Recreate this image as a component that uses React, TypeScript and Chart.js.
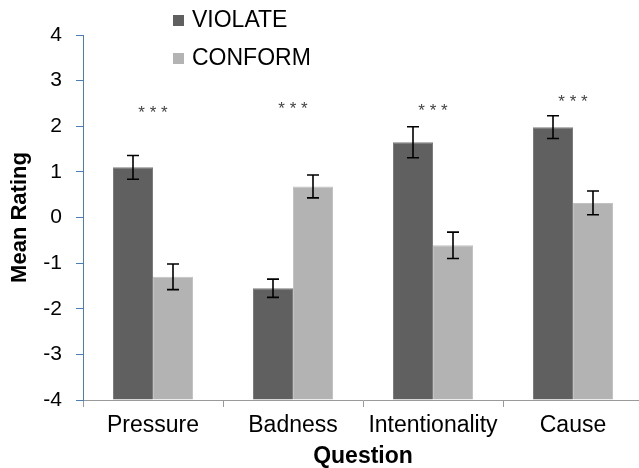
import React, { useEffect, useRef } from 'react';
import { Chart, registerables } from 'chart.js';

Chart.register(...registerables);

const categories = ['Pressure', 'Badness', 'Intentionality', 'Cause'];
const seriesLabels = ['VIOLATE', 'CONFORM'];
const violateMeans = [1.1, -1.55, 1.65, 1.98];
const violateErrors = [0.26, 0.2, 0.34, 0.25];
const conformMeans = [-1.3, 0.68, -0.61, 0.32];
const conformErrors = [0.28, 0.25, 0.29, 0.26];
const significanceLabels = ['***', '***', '***', '***'];
const significanceY = [2.38, 2.45, 2.42, 2.62];
const yMin = -4;
const yMax = 4;

const FONT = '"Liberation Sans", Arial, sans-serif';
const seriesColors = ['#606060', '#b3b3b3'];
const seriesBorders = ['#7c7c7c', '#c2c2c2'];
const errorSets = [violateErrors, conformErrors];

const errorBarPlugin = {
  id: 'errorBars',
  afterDatasetsDraw(chart: any) {
    const ctx = chart.ctx;
    const yScale = chart.scales.y;
    ctx.save();
    ctx.strokeStyle = '#000';
    ctx.lineWidth = 1.6;
    chart.data.datasets.forEach((ds: any, di: number) => {
      const meta = chart.getDatasetMeta(di);
      meta.data.forEach((bar: any, i: number) => {
        const v = ds.data[i];
        const e = errorSets[di][i];
        const top = yScale.getPixelForValue(v + e);
        const bot = yScale.getPixelForValue(v - e);
        const x = bar.x;
        const cap = 6;
        ctx.beginPath();
        ctx.moveTo(x, top);
        ctx.lineTo(x, bot);
        ctx.moveTo(x - cap, top);
        ctx.lineTo(x + cap, top);
        ctx.moveTo(x - cap, bot);
        ctx.lineTo(x + cap, bot);
        ctx.stroke();
      });
    });
    // significance markers
    const xScale = chart.scales.x;
    ctx.fillStyle = '#444';
    ctx.font = `17px ${FONT}`;
    ctx.textAlign = 'center';
    ctx.textBaseline = 'middle';
    significanceLabels.forEach((s, i) => {
      const x = xScale.getPixelForValue(i);
      const y = yScale.getPixelForValue(significanceY[i]);
      ctx.fillText(s.split('').join(' '), x, y + 4);
    });
    ctx.restore();
  },
};

const legendPlugin = {
  id: 'customLegend',
  afterDraw(chart: any) {
    const ctx = chart.ctx;
    ctx.save();
    ctx.font = `23px ${FONT}`;
    ctx.textAlign = 'left';
    ctx.textBaseline = 'middle';
    chart.data.datasets.forEach((ds: any, i: number) => {
      const cy = 20 + i * 38;
      ctx.fillStyle = ds.backgroundColor;
      ctx.fillRect(173, cy - 5, 11, 11);
      ctx.fillStyle = '#000';
      ctx.fillText(ds.label, 192, cy + 1);
    });
    ctx.restore();
  },
};

export default function App() {
  const ref = useRef<HTMLCanvasElement | null>(null);
  useEffect(() => {
    if (!ref.current) return;
    const chart = new Chart(ref.current, {
      type: 'bar',
      data: {
        labels: categories,
        datasets: [
          {
            label: seriesLabels[0],
            data: violateMeans,
            backgroundColor: seriesColors[0],
            borderColor: seriesBorders[0],
            borderWidth: 1,
            base: yMin,
          } as any,
          {
            label: seriesLabels[1],
            data: conformMeans,
            backgroundColor: seriesColors[1],
            borderColor: seriesBorders[1],
            borderWidth: 1,
            base: yMin,
          } as any,
        ],
      },
      options: {
        animation: false,
        responsive: true,
        maintainAspectRatio: false,
        layout: { padding: { left: 0, right: 7, top: 35, bottom: 0 } },
        datasets: { bar: { categoryPercentage: 80 / 140, barPercentage: 1 } },
        plugins: {
          legend: { display: false },
          tooltip: { enabled: false },
        },
        scales: {
          x: {
            offset: true,
            grid: {
              offset: true,
              drawOnChartArea: false,
              drawTicks: true,
              tickLength: 7,
              color: '#9a9a9a',
            },
            border: { display: true, color: '#9a9a9a', width: 1 },
            ticks: {
              color: '#000',
              font: { family: FONT, size: 23 },
              padding: 5,
              maxRotation: 0,
              autoSkip: false,
            },
            title: {
              display: true,
              text: 'Question',
              color: '#000',
              font: { family: FONT, size: 23, weight: 'bold' },
              padding: { top: 0, bottom: -2 },
            },
            afterFit(scale: any) {
              scale.height = 68;
            },
          },
          y: {
            min: yMin,
            max: yMax,
            grid: {
              drawOnChartArea: false,
              drawTicks: true,
              tickLength: 7,
              color: '#4a7ebb',
            },
            border: { display: true, color: '#4a7ebb', width: 1 },
            ticks: {
              stepSize: 1,
              color: '#000',
              font: { family: FONT, size: 21 },
              padding: 14,
            },
            title: {
              display: true,
              text: 'Mean Rating',
              color: '#000',
              font: { family: FONT, size: 22, weight: 'bold' },
              padding: { top: 7, bottom: 0 },
            },
            afterFit(scale: any) {
              scale.width = 83;
            },
          },
        },
      },
      plugins: [errorBarPlugin, legendPlugin],
    } as any);
    return () => chart.destroy();
  }, []);

  return (
    <div style={{ position: 'fixed', left: 0, top: 0, width: 639, height: 468, overflow: 'hidden', background: '#fff' }}>
      <div style={{ position: 'relative', width: 650, height: 468 }}>
        <canvas ref={ref} />
      </div>
    </div>
  );
}
